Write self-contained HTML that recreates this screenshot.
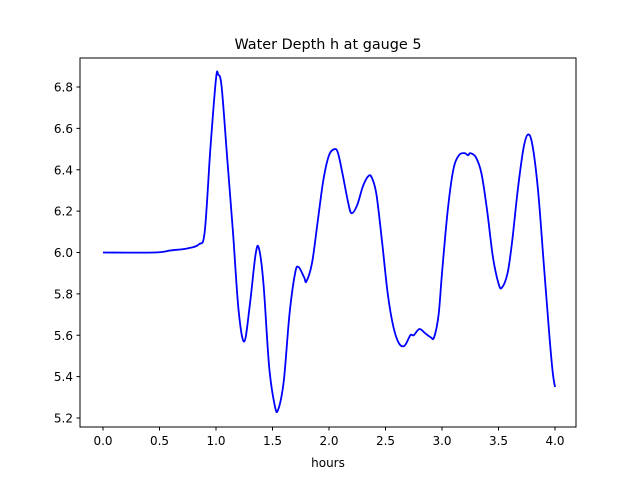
<!DOCTYPE html>
<html><head><meta charset="utf-8"><style>
body{margin:0;background:#fff;font-family:"DejaVu Sans","Liberation Sans",sans-serif;}
svg text{font-family:"DejaVu Sans","Liberation Sans",sans-serif;fill:#000;}
</style></head><body>
<svg id="chart" width="640" height="480" viewBox="0 0 640 480">
<rect width="640" height="480" fill="#fff"/>
<text x="328" y="49" font-size="14.4" text-anchor="middle">Water Depth h at gauge 5</text>
<g id="axes"></g>
<rect x="80" y="58" width="496" height="369" fill="none" stroke="#000" stroke-width="1"/>
<text x="328" y="467" font-size="12" text-anchor="middle">hours</text>
</svg>
<script>
const hours=[0,0.45,0.6,0.75,0.85,0.9,0.95,1.0,1.02,1.05,1.1,1.15,1.2,1.25,1.3,1.35,1.38,1.42,1.47,1.52,1.55,1.6,1.65,1.7,1.73,1.78,1.8,1.85,1.9,1.95,2.0,2.05,2.08,2.12,2.17,2.2,2.25,2.3,2.35,2.38,2.42,2.47,2.52,2.57,2.62,2.67,2.72,2.75,2.8,2.85,2.9,2.93,2.97,3.0,3.05,3.1,3.15,3.2,3.23,3.25,3.3,3.35,3.4,3.45,3.5,3.53,3.58,3.62,3.67,3.72,3.76,3.8,3.85,3.9,3.95,3.98,4.0];
const depth=[6.0,6.0,6.01,6.02,6.04,6.1,6.5,6.84,6.86,6.8,6.45,6.1,5.72,5.57,5.75,5.99,6.02,5.85,5.45,5.26,5.24,5.38,5.7,5.9,5.93,5.88,5.86,5.95,6.15,6.35,6.47,6.5,6.48,6.38,6.24,6.19,6.23,6.32,6.37,6.36,6.28,6.05,5.8,5.64,5.56,5.55,5.6,5.6,5.63,5.61,5.59,5.59,5.7,5.9,6.2,6.4,6.47,6.48,6.47,6.48,6.46,6.38,6.2,5.98,5.85,5.83,5.9,6.05,6.3,6.5,6.57,6.52,6.3,5.95,5.6,5.42,5.35];
const xTicks=["0.0","0.5","1.0","1.5","2.0","2.5","3.0","3.5","4.0"];
const yTicks=["5.2","5.4","5.6","5.8","6.0","6.2","6.4","6.6","6.8"];
const NS="http://www.w3.org/2000/svg";
const X=v=>103+v*113;
const Y=v=>418-(v-5.2)/1.6*331;
const g=document.getElementById('axes');
function mk(t,a){const e=document.createElementNS(NS,t);for(const k in a)e.setAttribute(k,a[k]);return e;}
xTicks.forEach(t=>{const x=X(parseFloat(t));
const l=mk('line',{x1:x,x2:x,y1:427,y2:430.5,stroke:'#000'});

g.appendChild(l);
const tx=mk('text',{x:x,y:445,'font-size':12,'text-anchor':'middle'});tx.textContent=t;

g.appendChild(tx);});
yTicks.forEach(t=>{const y=Y(parseFloat(t));
const l=mk('line',{x1:76.5,x2:80,y1:y,y2:y,stroke:'#000'});

g.appendChild(l);
const tx=mk('text',{x:73,y:y+4.5,'font-size':12,'text-anchor':'end'});tx.textContent=t;

g.appendChild(tx);});
// smooth path (Catmull-Rom)
const P=hours.map((h,i)=>[X(h),Y(depth[i])]);
let d='M'+P[0][0]+','+P[0][1];
for(let i=0;i<P.length-1;i++){const p0=P[i-1]||P[i],p1=P[i],p2=P[i+1],p3=P[i+2]||P[i+1];
d+=' C'+(p1[0]+(p2[0]-p0[0])/6)+','+(p1[1]+(p2[1]-p0[1])/6)+' '+(p2[0]-(p3[0]-p1[0])/6)+','+(p2[1]-(p3[1]-p1[1])/6)+' '+p2[0]+','+p2[1];}
const path=mk('path',{d:d,fill:'none',stroke:'#0000ff','stroke-width':1.8});


g.appendChild(path);
</script>
</body></html>
